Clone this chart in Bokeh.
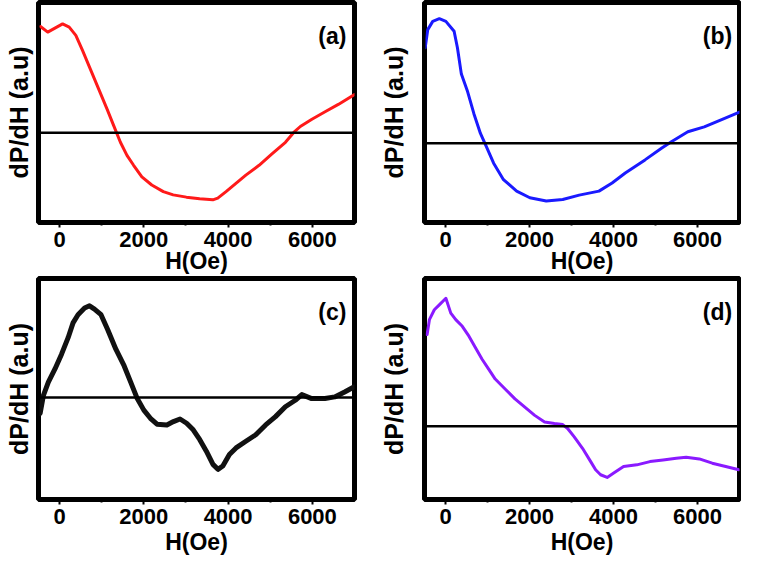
from bokeh.plotting import figure
from bokeh.layouts import column, row
from bokeh.models import FixedTicker, Range1d, Span, Label
from bokeh.embed import file_html
from bokeh.resources import INLINE

FONT = "Liberation Sans"

# ---- data (H in Oe, dP/dH in arbitrary units, zero line at 0) ----
x_a = [-453, -281, 72, 229, 386, 542, 738, 934, 1130, 1287, 1444, 1600, 1757,
       1953, 2188, 2462, 2697, 3010, 3324, 3638, 3755, 3951, 4186, 4421, 4735,
       5048, 5361, 5558, 5714, 5989, 6302, 6616, 7000]
y_a = [107.7, 102, 110.3, 107, 98.7, 83.7, 63.7, 43.7, 23.7, 7, -9.7, -23, -33,
       -44.7, -53, -59.7, -63, -65.3, -67, -68, -66.3, -59.7, -51.3, -43, -33,
       -21.3, -9.7, 0.3, 6.3, 13.7, 21.3, 28.7, 38.7]

x_b = [-484, -422, -304, -147, 9, 205, 284, 378, 519, 676, 832, 973, 1146, 1381,
       1694, 2008, 2399, 2791, 3183, 3654, 3967, 4280, 4750, 5142, 5378, 5770,
       6161, 6632, 7000]
y_b = [96.7, 115, 123.3, 126, 123.3, 113.3, 96.7, 70, 53.3, 30, 10, -3.3, -20,
       -36.7, -48.3, -55, -58.3, -56.7, -52.3, -48.3, -40, -30, -16.7, -5, 1.7,
       11.7, 16.7, 25, 31.7]

x_c = [-461, -383, -266, -109, 47, 203, 320, 438, 594, 711, 828, 984, 1141, 1336,
       1531, 1688, 1844, 2000, 2156, 2313, 2547, 2703, 2859, 3016, 3172, 3328,
       3484, 3641, 3758, 3875, 4031, 4188, 4422, 4656, 4891, 5125, 5359, 5594,
       5750, 5984, 6297, 6531, 6766, 6984]
y_c = [-16, 2.3, 15.7, 29, 44, 60.7, 75.7, 84, 90.7, 93, 89.7, 84, 69, 49, 32.3,
       15.7, -1, -12.7, -21, -27, -27.7, -24.3, -21.7, -26, -32.7, -42.7, -54.3,
       -67.7, -72.7, -69.3, -57.7, -51, -44.3, -37.7, -27.7, -19.3, -9.3, -2.7,
       3, -1, -1, 0.7, 5.7, 10.7]

x_d = [-438, -383, -266, -148, 9, 126, 244, 400, 558, 714, 871, 1027, 1184, 1419,
       1654, 1889, 2124, 2359, 2594, 2791, 2908, 3065, 3262, 3457, 3574, 3692,
       3849, 4005, 4240, 4555, 4868, 5180, 5495, 5730, 6043, 6352, 6671, 6984]
y_d = [92.7, 107.7, 117.7, 122.7, 129.3, 114.3, 107.7, 101, 91, 79.3, 67.7, 57.7,
       47.7, 37.7, 27.7, 19.3, 11, 4.3, 2.7, 1.7, -2.3, -10.7, -22.3, -35.7, -44,
       -49, -51.7, -47.3, -40.7, -39, -35.7, -34, -32.3, -31.3, -33, -37.3,
       -40.7, -44]

x_lims = [-500, 7000]
y_lims_a = [-91, 132]
y_lims_b = [-80, 142.4]
y_lims_c = [-103.3, 120.7]
y_lims_d = [-74, 149.3]

major_ticks = [0, 2000, 4000, 6000]
minor_ticks = [1000, 3000, 5000]
panel_labels = ["(a)", "(b)", "(c)", "(d)"]
colors = ["#ff1a1a", "#1a1aff", "#111111", "#8a1aff"]
x_title = "H(Oe)"
y_title = "dP/dH (a.u)"


def make_panel(x, y, ylims, color, lw, label, width, height,
               mb_left, mb_right, mb_top, mb_bottom, ylab_standoff,
               xlab_standoff):
    p = figure(width=width, height=height, output_backend="svg",
               toolbar_location=None,
               x_range=Range1d(x_lims[0], x_lims[1]),
               y_range=Range1d(ylims[0], ylims[1]),
               min_border_left=mb_left, min_border_right=mb_right,
               min_border_top=mb_top, min_border_bottom=mb_bottom)
    p.grid.visible = False
    p.background_fill_color = "white"
    p.border_fill_color = "white"
    p.outline_line_color = "black"
    p.outline_line_width = 5
    p.outline_line_alpha = 1

    p.add_layout(Span(location=0, dimension="width", line_color="black",
                      line_width=2.5))
    p.line(x, y, line_color=color, line_width=lw, line_join="round",
           line_cap="round")

    xa = p.xaxis[0]
    xa.ticker = FixedTicker(ticks=major_ticks, minor_ticks=minor_ticks)
    xa.major_label_text_font = FONT
    xa.major_label_text_font_size = "22px"
    xa.major_label_text_font_style = "bold"
    xa.major_label_text_color = "black"
    xa.major_label_standoff = 4
    xa.major_tick_in = 0
    xa.major_tick_out = 5
    xa.minor_tick_in = 0
    xa.minor_tick_out = 3
    xa.major_tick_line_width = 2
    xa.minor_tick_line_width = 2
    xa.major_tick_line_color = "black"
    xa.minor_tick_line_color = "black"
    xa.axis_line_width = 2
    xa.axis_line_color = "black"
    xa.axis_label = x_title
    xa.axis_label_text_font = FONT
    xa.axis_label_text_font_size = "23px"
    xa.axis_label_text_font_style = "bold"
    xa.axis_label_text_color = "black"
    xa.axis_label_standoff = xlab_standoff

    ya = p.yaxis[0]
    ya.ticker = FixedTicker(ticks=[])
    ya.major_label_text_font_size = "0px"
    ya.major_tick_out = 0
    ya.minor_tick_out = 0
    ya.axis_line_width = 2
    ya.axis_line_color = "black"
    ya.axis_label = y_title
    ya.axis_label_text_font = FONT
    ya.axis_label_text_font_size = "25px"
    ya.axis_label_text_font_style = "bold"
    ya.axis_label_text_color = "black"
    ya.axis_label_standoff = ylab_standoff

    lx = x_lims[0] + 0.93 * (x_lims[1] - x_lims[0])
    ly = ylims[1] - 0.15 * (ylims[1] - ylims[0])
    p.add_layout(Label(x=lx, y=ly, text=label, text_font=FONT,
                       text_font_size="23px", text_font_style="bold",
                       text_color="black", text_align="center",
                       text_baseline="middle"))
    return p


pa = make_panel(x_a, y_a, y_lims_a, colors[0], 3, panel_labels[0],
                374, 276, 38, 20, 2, 50, 6, -2)
pb = make_panel(x_b, y_b, y_lims_b, colors[1], 3, panel_labels[1],
                367, 276, 50, 2, 2, 50, 17, -2)
pc = make_panel(x_c, y_c, y_lims_c, colors[2], 5, panel_labels[2],
                374, 281, 38, 20, 2, 50, 6, 2)
pd_ = make_panel(x_d, y_d, y_lims_d, colors[3], 3, panel_labels[3],
                 367, 281, 50, 2, 2, 50, 17, 2)

layout = column(row(pa, pb), row(pc, pd_))
open("out.html", "w").write(file_html(layout, INLINE))
